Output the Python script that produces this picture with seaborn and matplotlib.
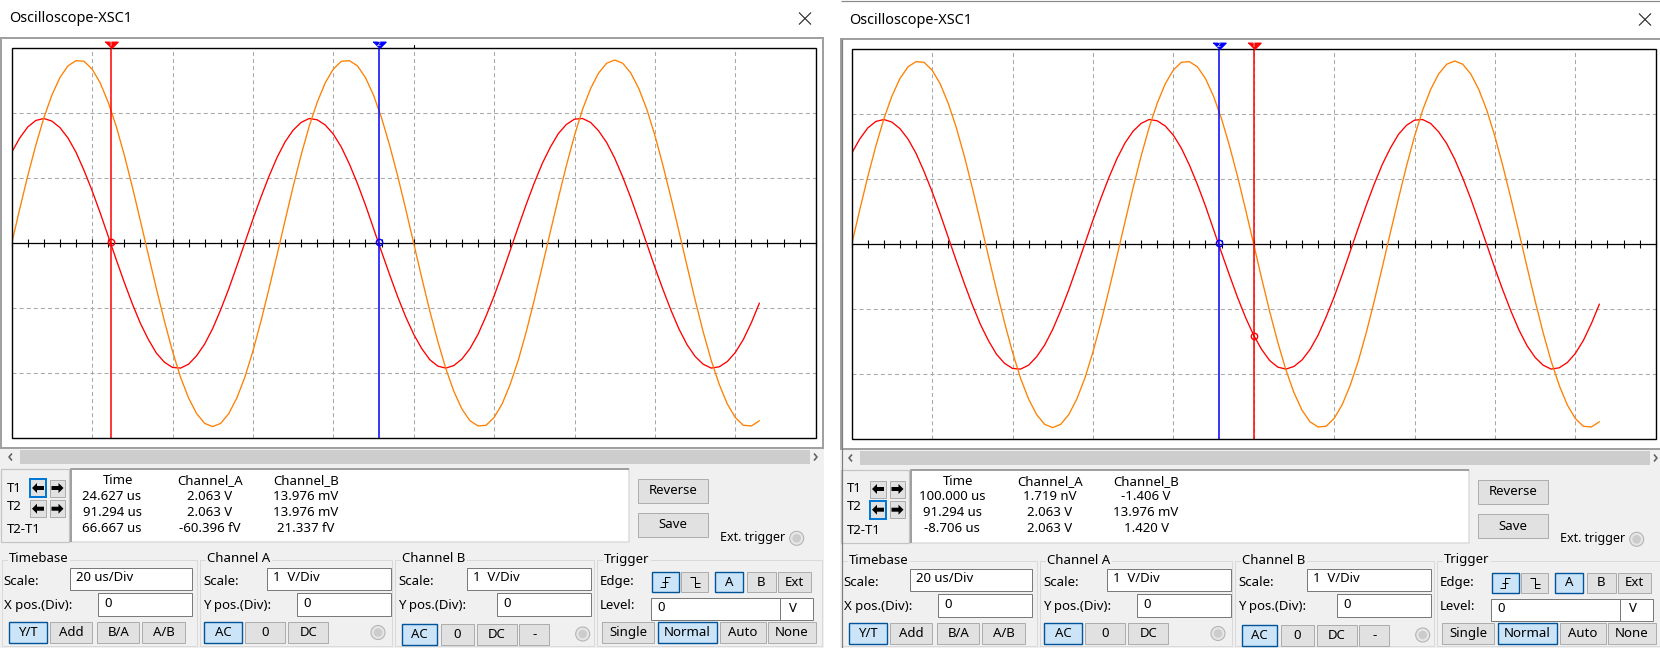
import numpy as np
import pandas as pd
import matplotlib
matplotlib.use("Agg")
import matplotlib.pyplot as plt
import matplotlib.transforms as mtransforms
from matplotlib.patches import Rectangle, Circle, Polygon
from matplotlib.ticker import MultipleLocator
import seaborn as sns

sns.set_style("white")
plt.rcParams["font.family"] = ["Noto Sans", "DejaVu Sans"]
plt.rcParams["lines.scale_dashes"] = False

time_us = list(range(0, 187, 2))
channel_a_v = [0.00, 0.53, 1.04, 1.51, 1.93, 2.28, 2.55, 2.73, 2.81, 2.80,
               2.68, 2.47, 2.17, 1.80, 1.36, 0.87, 0.35, -0.18, -0.70, -1.20,
               -1.66, -2.06, -2.38, -2.62, -2.77, -2.82, -2.77, -2.62, -2.38, -2.06,
               -1.66, -1.20, -0.70, -0.18, 0.35, 0.87, 1.36, 1.80, 2.17, 2.47,
               2.68, 2.80, 2.81, 2.73, 2.55, 2.28, 1.93, 1.51, 1.04, 0.53,
               0.00, -0.53, -1.04, -1.51, -1.93, -2.28, -2.55, -2.73, -2.81, -2.80,
               -2.68, -2.47, -2.17, -1.80, -1.36, -0.87, -0.35, 0.18, 0.70, 1.20,
               1.66, 2.06, 2.38, 2.62, 2.77, 2.82, 2.77, 2.62, 2.38, 2.06,
               1.66, 1.20, 0.70, 0.18, -0.35, -0.87, -1.36, -1.80, -2.17, -2.47,
               -2.68, -2.80, -2.81, -2.73]
channel_b_v = [1.40, 1.62, 1.79, 1.89, 1.92, 1.88, 1.78, 1.62, 1.40, 1.12,
               0.81, 0.47, 0.11, -0.25, -0.60, -0.93, -1.23, -1.48, -1.69, -1.83,
               -1.91, -1.92, -1.86, -1.73, -1.55, -1.31, -1.02, -0.70, -0.35, 0.01,
               0.37, 0.71, 1.03, 1.32, 1.56, 1.74, 1.86, 1.92, 1.90, 1.82,
               1.68, 1.48, 1.22, 0.92, 0.59, 0.23, -0.13, -0.48, -0.82, -1.13,
               -1.40, -1.62, -1.79, -1.89, -1.92, -1.88, -1.78, -1.62, -1.40, -1.12,
               -0.81, -0.47, -0.11, 0.25, 0.60, 0.93, 1.23, 1.48, 1.69, 1.83,
               1.91, 1.92, 1.86, 1.73, 1.55, 1.31, 1.02, 0.70, 0.35, -0.01,
               -0.37, -0.71, -1.03, -1.32, -1.56, -1.74, -1.86, -1.92, -1.90, -1.82,
               -1.68, -1.48, -1.22, -0.92]

# Cursor T1 / T2 (Zeit in us, Kanal B in V)
cursor_t_left = [24.627, 91.294]
cursor_b_left = [0.014, 0.014]
cursor_t_right = [100.0, 91.294]
cursor_b_right = [-1.406, 0.014]

# Messwert-Tabellen
read_time_left = ["24.627 us", "91.294 us", "66.667 us"]
read_a_left = ["2.063 V", "2.063 V", "-60.396 fV"]
read_b_left = ["13.976 mV", "13.976 mV", "21.337 fV"]
read_time_right = ["100.000 us", "91.294 us", "-8.706 us"]
read_a_right = ["1.719 nV", "2.063 V", "2.063 V"]
read_b_right = ["-1.406 V", "13.976 mV", "1.420 V"]

W, H = 1660, 648
FS = 9.5
fig = plt.figure(figsize=(W / 100, H / 100), dpi=100, facecolor="white")
bg = fig.add_axes([0, 0, 1, 1], zorder=0)
bg.set_xlim(0, W)
bg.set_ylim(H, 0)
bg.axis("off")


def txt(x, y, s, ha="left", fs=FS, **kw):
    bg.text(x, y, s, ha=ha, va="center", fontsize=fs, color="black", zorder=6, **kw)


def box(x0, y0, x1, y1, fc, ec="none", lw=1.0, z=2):
    bg.add_patch(Rectangle((x0, y0), x1 - x0, y1 - y0, facecolor=fc,
                           edgecolor=ec, linewidth=lw * 0.72, zorder=z))


def line(xs, ys, c="black", lw=1.0, z=4):
    bg.plot(xs, ys, color=c, lw=lw * 0.72, zorder=z, solid_capstyle="butt")


def button(x0, y0, x1, y1, s, on=False):
    if on:
        box(x0, y0, x1, y1, "#cce4f7", "#005499", lw=1.4)
    else:
        box(x0, y0, x1, y1, "#e1e1e1", "#adadad")
    if s:
        txt((x0 + x1) / 2, (y0 + y1) / 2, s, ha="center")


def entry(x0, y0, x1, y1, s):
    box(x0, y0, x1, y1, "white", "#7a7a7a")
    txt(x0 + 6, (y0 + y1) / 2 - 1, s)


def radio(cx, cy):
    bg.add_patch(Circle((cx, cy), 7, facecolor="#e6e6e6", edgecolor="#b4b4b4", lw=0.8, zorder=3))
    bg.add_patch(Circle((cx, cy), 4.3, facecolor="#cccccc", edgecolor="none", zorder=4))


def arrow(cx, cy, d):
    # d = -1: Pfeil nach links, d = 1: Pfeil nach rechts
    pts = [(6, 0), (1, -5), (1, -2), (-6, -2), (-6, 2), (1, 2), (1, 5)]
    bg.add_patch(Polygon([(cx + d * px, cy + py) for px, py in pts], closed=True,
                         facecolor="black", edgecolor="none", zorder=5))


def group(x0, x1, y0, title):
    box(x0, y0, x1, 646, "none", "#d9d9d9", z=1.5)
    txt(x0 + 7, y0 - 1, title, bbox=dict(fc="#f0f0f0", ec="none", pad=1.0))


def draw_window(ox, oy, rows_t, rows_a, rows_b, focus_row):
    X = lambda v: ox + v
    Y = lambda v: oy + v
    txt(X(9), Y(19), "Oscilloscope-XSC1", fs=10.4)
    line([X(799), X(811)], [Y(12.5), Y(24.5)], "#222222", 1.1)
    line([X(799), X(811)], [Y(24.5), Y(12.5)], "#222222", 1.1)
    box(X(1), Y(38), X(822.5), Y(447.5), "white", "#a0a0a0", lw=2, z=0.5)
    box(X(0), Y(448.5), X(824), H + 5, "#f0f0f0", z=0.4)

    # Scrollbar
    box(X(20), Y(450), X(810), Y(463.5), "#cdcdcd", z=1)
    line([X(12), X(9), X(12)], [Y(453.5), Y(457), Y(460.5)], "#606060", 1.6)
    line([X(814), X(817), X(814)], [Y(453.5), Y(457), Y(460.5)], "#606060", 1.6)

    # Cursor-Bereich
    box(X(1), Y(469), X(69), Y(541.5), "none", "#c4c4c4", lw=1.2)
    box(X(71), Y(469), X(629), Y(541.5), "white", "#dcdcdc", lw=1.5)
    line([X(71), X(71), X(629)], [Y(541.5), Y(469), Y(469)], "#a0a0a0", 2)
    txt(X(7), Y(488), "T1")
    txt(X(7), Y(506), "T2")
    txt(X(7), Y(529.5), "T2-T1")
    for r, cy in enumerate([488, 508.7]):
        for d, (bx0, bx1) in zip([-1, 1], [(30, 46), (50, 65)]):
            if r == focus_row and d == -1:
                box(X(bx0), Y(cy - 9), X(bx1), Y(cy + 9), "#e1e1e1", "#0078d7", lw=2)
            else:
                box(X(bx0), Y(cy - 8.5), X(bx1), Y(cy + 8.5), "#e1e1e1", "#adadad")
            arrow(X((bx0 + bx1) / 2), Y(cy), d)

    txt(X(118), Y(480.5), "Time", ha="center")
    txt(X(210.5), Y(480.5), "Channel_A", ha="center")
    txt(X(306), Y(480.5), "Channel_B", ha="center")
    for i, cy in enumerate([496, 512, 528]):
        txt(X(112), Y(cy), rows_t[i], ha="center")
        txt(X(210), Y(cy), rows_a[i], ha="center")
        txt(X(306), Y(cy), rows_b[i], ha="center")

    button(X(638), Y(478.7), X(708), Y(503), "Reverse")
    button(X(638), Y(512.7), X(708), Y(537.3), "Save")
    txt(X(720), Y(537.5), "Ext. trigger", fs=9.0)
    radio(X(796.7), Y(538.3))

    # Timebase
    group(X(2), X(197), Y(560), "Timebase")
    txt(X(3.5), Y(581.7), "Scale:")
    entry(X(70), Y(567.7), X(191.5), Y(590), "20 us/Div")
    txt(X(3.5), Y(605.8), "X pos.(Div):")
    entry(X(98.3), Y(593.3), X(191.5), Y(616), "0")
    button(X(9), Y(622.3), X(47.3), Y(643.3), "Y/T", on=True)
    button(X(50), Y(622.3), X(92.3), Y(643.3), "Add")
    button(X(97.3), Y(622.3), X(139), Y(643.3), "B/A")
    button(X(142.3), Y(622.3), X(185), Y(643.3), "A/B")

    # Channel A
    group(X(200), X(392), Y(560), "Channel A")
    txt(X(203.3), Y(581.7), "Scale:")
    entry(X(267.3), Y(567.7), X(391), Y(590), "1  V/Div")
    txt(X(203.3), Y(605.8), "Y pos.(Div):")
    entry(X(297.3), Y(593.3), X(391), Y(616), "0")
    button(X(204), Y(622.3), X(241.7), Y(643.3), "AC", on=True)
    button(X(245), Y(622.3), X(285), Y(643.3), "0")
    button(X(288.3), Y(622.3), X(328.3), Y(643.3), "DC")
    radio(X(378), Y(632.5))

    # Channel B
    group(X(395), X(594), Y(560), "Channel B")
    txt(X(398.5), Y(581.7), "Scale:")
    entry(X(467.3), Y(567.7), X(590.7), Y(590), "1  V/Div")
    txt(X(398.5), Y(605.8), "Y pos.(Div):")
    entry(X(497.3), Y(593.3), X(590.7), Y(616), "0")
    button(X(401.7), Y(624), X(437.3), Y(645), "AC", on=True)
    button(X(440.7), Y(624), X(474.3), Y(645), "0")
    button(X(477.3), Y(624), X(516.7), Y(645), "DC")
    button(X(519.3), Y(624), X(549.3), Y(645), "-")
    radio(X(582.7), Y(634))

    # Trigger
    group(X(597), X(822), Y(560), "Trigger")
    txt(X(600), Y(581.5), "Edge:")
    button(X(651.7), Y(572.3), X(678.7), Y(591.7), "", on=True)
    button(X(681), Y(572.3), X(708.3), Y(591.7), "")
    cx, cy = X(665.2), Y(582)
    line([cx - 5, cx, cx, cx + 5], [cy + 5, cy + 5, cy - 5, cy - 5])
    line([cx - 3, cx + 3], [cy, cy])
    cx = X(694.6)
    line([cx - 5, cx, cx, cx + 5], [cy - 5, cy - 5, cy + 5, cy + 5])
    line([cx, cx + 5], [cy + 1, cy + 1])
    button(X(715), Y(572.3), X(743.3), Y(591.7), "A", on=True)
    button(X(746.7), Y(572.3), X(775.7), Y(591.7), "B")
    button(X(778.3), Y(572.3), X(811), Y(591.7), "Ext")
    txt(X(600), Y(605.8), "Level:")
    entry(X(651), Y(597.7), X(780), Y(620), "0")
    box(X(780), Y(597.7), X(812.7), Y(620), "white", "#7a7a7a")
    txt(X(793), Y(608), "V", ha="center")
    button(X(601.7), Y(622.3), X(654.3), Y(643.3), "Single")
    button(X(657.7), Y(622.3), X(717), Y(643.3), "Normal", on=True)
    button(X(720.3), Y(622.3), X(765.5), Y(643.3), "Auto")
    button(X(767.7), Y(622.3), X(815.7), Y(643.3), "None")


def px_axes(x0, y0, x1, y1):
    return fig.add_axes([x0 / W, 1 - y1 / H, (x1 - x0) / W, (y1 - y0) / H], zorder=1)


def draw_scope(ax, cursor_t, cursor_b):
    df = pd.DataFrame({"t": time_us, "A": channel_a_v, "B": channel_b_v})
    sns.lineplot(data=df, x="t", y="B", ax=ax, color="#ff0000", lw=0.95,
                 estimator=None, sort=False, legend=False, zorder=3)
    sns.lineplot(data=df, x="t", y="A", ax=ax, color="#ff8000", lw=0.95,
                 estimator=None, sort=False, legend=False, zorder=3)
    ax.set_xlim(0, 200)
    ax.set_ylim(-3, 3)
    ax.set_xlabel("")
    ax.set_ylabel("")
    ax.set_facecolor("white")
    ax.xaxis.set_major_locator(MultipleLocator(20))
    ax.xaxis.set_minor_locator(MultipleLocator(4))
    ax.yaxis.set_major_locator(MultipleLocator(1))
    ax.grid(True, which="major", color="#a8a8a8", lw=0.75, ls=(0, (2.9, 2.2)))
    ax.set_axisbelow(True)
    for s in ["top", "left", "right"]:
        ax.spines[s].set_visible(False)
    ax.spines["bottom"].set_position(("data", 0))
    ax.spines["bottom"].set_color("black")
    ax.spines["bottom"].set_linewidth(0.9)
    ax.tick_params(axis="x", which="both", direction="inout", length=5.2, width=0.8,
                   color="black", bottom=True, labelbottom=False)
    ax.tick_params(axis="y", length=0, labelleft=False)
    ax.add_patch(Rectangle((0, 0), 1, 1, transform=ax.transAxes, fill=False,
                           ec="black", lw=1.0, clip_on=False, zorder=5))

    trans = mtransforms.blended_transform_factory(ax.transData, ax.transAxes)
    mid = sum(ax.get_xlim()) / 2
    ax.plot([mid, mid], [1.0, 1.008], color="black", lw=0.8, transform=trans, clip_on=False)

    tri = [(-1, 0.5), (1, 0.5), (0, -0.5)]
    for t, b, c, n in zip(cursor_t, cursor_b, ["#ff0000", "#0000ff"], ["1", "2"]):
        ax.axvline(t, color=c, lw=1.1, zorder=4)
        ax.plot([t], [1.0085], marker=tri, ms=9.4, color=c, transform=trans,
                clip_on=False, zorder=6)
        ax.text(t, 1.011, n, color="white", fontsize=4.8, fontweight="bold", ha="center",
                va="center", transform=trans, zorder=7)
        ax.plot([t], [b], marker="o", ms=4.6, mfc="none", mec=c, mew=1.0, zorder=6)


draw_window(0, 0, read_time_left, read_a_left, read_b_left, focus_row=0)
draw_window(840, 1, read_time_right, read_a_right, read_b_right, focus_row=1)
line([841, W], [0.5, 0.5], "#8a8a8a", 1.2)
line([841.5, 841.5], [39, H], "#7d7d7d", 1.2, z=3)

ax_l = px_axes(11.7, 48.3, 815.7, 438.3)
draw_scope(ax_l, cursor_t_left, cursor_b_left)
ax_r = px_axes(851.7, 49.3, 1655.7, 439.3)
draw_scope(ax_r, cursor_t_right, cursor_b_right)

fig.savefig("out.png", dpi=100, facecolor="white")
